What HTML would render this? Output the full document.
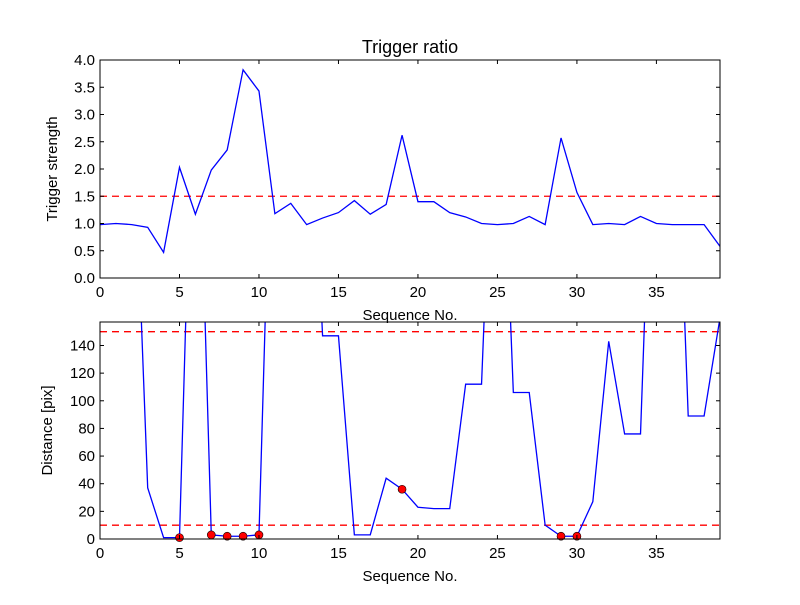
<!DOCTYPE html>
<html><head><meta charset="utf-8"><style>
body{margin:0;background:#fff;}
svg text{font-family:"Liberation Sans","DejaVu Sans",sans-serif;fill:#000;}
</style></head><body>
<svg id="chart" width="800" height="600" xmlns="http://www.w3.org/2000/svg"></svg>
<script>
const xTicks=[0,5,10,15,20,25,30,35];
const topTicks=[0,0.5,1,1.5,2,2.5,3,3.5,4];
const topTickLabels=["0.0","0.5","1.0","1.5","2.0","2.5","3.0","3.5","4.0"];
const botTicks=[0,20,40,60,80,100,120,140];
const triggerStrength=[0.98,1.0,0.98,0.93,0.47,2.03,1.17,1.98,2.35,3.82,3.43,1.18,1.37,0.98,1.1,1.2,1.42,1.17,1.35,2.62,1.4,1.4,1.2,1.12,1.0,0.98,1.0,1.13,0.98,2.57,1.57,0.98,1.0,0.98,1.13,1.0,0.98,0.98,0.98,0.58];
const distance=[400,400,340,37,1,1,400,3,2,2,3,400,400,400,147,147,3,3,44,36,23,22,22,112,112,400,106,106,10,2,2,27,143,76,76,400,400,89,89,160];
const triggerThreshold=1.5;
const distLow=10, distHigh=150;
const markerIdx=[5,7,8,9,10,19,29,30];

const NS="http://www.w3.org/2000/svg";
const svg=document.getElementById('chart');
function mk(tag,attrs,parent){const e=document.createElementNS(NS,tag);for(const k in attrs)e.setAttribute(k,attrs[k]);(parent||svg).appendChild(e);return e;}
const L=100,R=720;
const xs=v=>L+(v/39)*(R-L);
function axes(top,bot,ymax,name){
  const ys=v=>bot-(v/ymax)*(bot-top);
  const g=mk('g',{});
  
  
  const cp=mk('clipPath',{id:'cp'+name},g);mk('rect',{x:L,y:top,width:R-L,height:bot-top},cp);
  return {g,ys,top,bot,cp:'url(#cp'+name+')'};
}
function frame(a,ticks,labels,name,ylab,ylx){
  const {g,ys,top,bot}=a;
  const fr=mk('rect',{x:L,y:top,width:R-L,height:bot-top,fill:'none',stroke:'#000','stroke-width':1},g);
  
  xTicks.forEach(t=>{const x=xs(t);
    mk('line',{x1:x,x2:x,y1:bot,y2:bot-4,stroke:'#000'},g);mk('line',{x1:x,x2:x,y1:top,y2:top+4,stroke:'#000'},g);
    const tx=mk('text',{x:x,y:bot+19,'font-size':15,'text-anchor':'middle'},g);tx.textContent=t;
    });
  ticks.forEach((t,i)=>{const y=ys(t);
    mk('line',{x1:L,x2:L+4,y1:y,y2:y,stroke:'#000'},g);mk('line',{x1:R,x2:R-4,y1:y,y2:y,stroke:'#000'},g);
    const tx=mk('text',{x:L-5,y:y+5,'font-size':15,'text-anchor':'end'},g);tx.textContent=labels[i];
    });
  const xl=mk('text',{x:(L+R)/2,y:bot+42,'font-size':15,'text-anchor':'middle'},g);xl.textContent='Sequence No.';
  
  const cy=(top+bot)/2;
  const yl=mk('text',{x:ylx,y:cy,'font-size':15,'text-anchor':'middle',transform:`rotate(-90 ${ylx} ${cy})`},g);yl.textContent=ylab;
  
}
// Top
const a1=axes(60,278,4,'top-plot');
const h1=mk('line',{x1:L,x2:R,y1:a1.ys(triggerThreshold),y2:a1.ys(triggerThreshold),stroke:'red','stroke-width':1.3,'stroke-dasharray':'7,5'},a1.g);

const p1=mk('polyline',{points:triggerStrength.map((v,i)=>xs(i)+','+a1.ys(v)).join(' '),fill:'none',stroke:'blue','stroke-width':1.3,'clip-path':a1.cp},a1.g);

frame(a1,topTicks,topTickLabels,'top-plot','Trigger strength',57);
const t=mk('text',{x:410,y:53,'font-size':18,'text-anchor':'middle'});t.textContent='Trigger ratio';

// Bottom
const a2=axes(322,539,157,'bottom-plot');
[distLow,distHigh].forEach(v=>{const l=mk('line',{x1:L,x2:R,y1:a2.ys(v),y2:a2.ys(v),stroke:'red','stroke-width':1.3,'stroke-dasharray':'7,5'},a2.g);
  });
const p2=mk('polyline',{points:distance.map((v,i)=>xs(i)+','+a2.ys(v)).join(' '),fill:'none',stroke:'blue','stroke-width':1.3,'clip-path':a2.cp},a2.g);

markerIdx.forEach(i=>{const c=mk('circle',{cx:xs(i),cy:a2.ys(distance[i]),r:4,fill:'red',stroke:'#000','stroke-width':0.6},a2.g);
  });
frame(a2,botTicks,botTicks,'bottom-plot','Distance [pix]',52);
</script>
</body></html>
